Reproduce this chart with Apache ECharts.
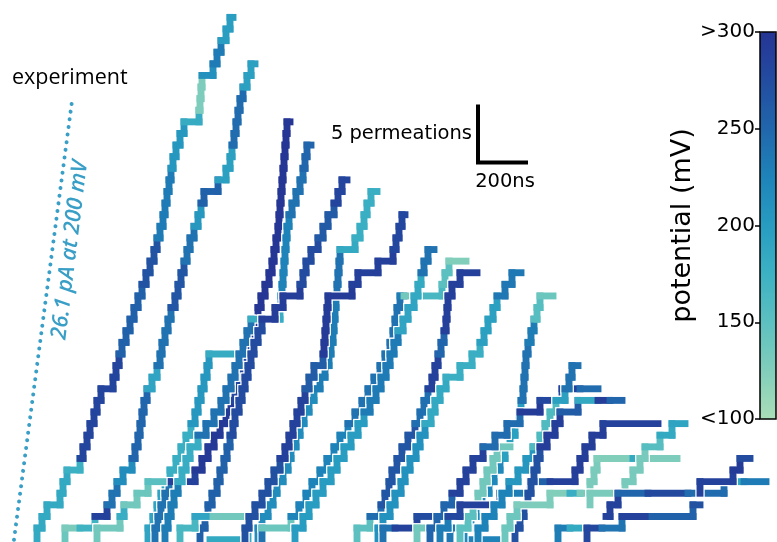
<!DOCTYPE html>
<html>
<head>
<meta charset="utf-8">
<script src="https://cdn.jsdelivr.net/npm/echarts/dist/echarts.min.js"></script>
<style>
  html, body { margin: 0; padding: 0; background: #ffffff; }
  #chart { width: 777px; height: 542px; }
</style>
</head>
<body>
<div id="chart"></div>
<script>
// ---- Permeation traces -------------------------------------------------
// Each trace: start = [time (ns), permeation count], dwell = time (ns) spent at
// each count before the next permeation (a nested list splits one dwell into
// pieces of different potential), mv = runs of [number of pieces, potential mV].
const trA = { start: [148, 0],
  dwell: [0,20,20,52,12,16,52,12,16,12,16,12,16,48,12,12,12,16,16,16,16,16,16,16,16,12,12,12,8,8,8,8,8,12,16,16,60,4,4,4,44,16,16,20,16,12],
  mv: [[6,185],[1,175],[9,282],[6,255],[4,268],[6,232],[4,205],[1,182],[3,128],[1,212],[2,232],[3,198]] };
const trB = { start: [260, 0],
  dwell: [0,[60,60],48,20,20,24,36,12,12,8,8,8,12,20,20,12,8,12,12,12,16,12,12,12,12,12,16,16,12,12,56,32,16,8,8,8,8,8,12,16,16,16],
  mv: [[1,140],[1,130],[1,172],[1,285],[2,240],[2,215],[6,250],[2,190],[5,240],[4,265],[3,240],[2,205],[2,255],[3,195],[5,245],[3,195]] };
const trY = { start: [592, 0],
  dwell: [0,20,16,16,16,20,24,20,20,20,16,12,12,12,12,8,116],
  mv: [[5,190],[5,178],[6,205],[1,182]] };
const trC = { start: [620, 0],
  dwell: [0,12,12,16,16,104,28,24,24,24,24,20,16,16,16,12,12,12,12,12,12,16,16,12,8,8,8,4,4,4,4,4,4,4,4,4,12],
  mv: [[5,240],[1,285],[6,295],[5,280],[20,298]] };
const trC2 = { start: [660, 0],
  dwell: [0,12,12,12,16,16,16,16,32,32,32,28,20,20,16,16,16,16,16,116,4,4,4,4,4,4,4,8,12,16,16,12,8,8,16],
  mv: [[5,230],[4,180],[10,240],[1,180],[8,225],[4,240],[3,250]] };
const trD = { start: [800, 0],
  dwell: [0,20,12,16,20,12,16,12,12,12,8,16,12,12,12,12,12,16,16,52,32,68,12,12,20,28,20,20,24,16,16,20],
  mv: [[9,255],[10,275],[3,290],[4,275],[3,262],[3,282]] };
const trZ2 = { start: [388, 0], dwell: [0,92,16,52,44,60], mv: [[2,135],[1,180],[1,135],[1,140],[1,152]] };
const trZ5 = { start: [720, 0], dwell: [0,60,[72,136]], mv: [[2,165],[1,190],[1,135]] };
const trBt1 = { start: [840, 0], dwell: [108], mv: [[1,185]] };
const trBt2 = { start: [992, 0], dwell: [0,[72,76]], mv: [[2,185],[1,135]] };
const trE = { start: [1032, 0],
  dwell: [0,16,24,20,16,24,20,12,20,16,16,20,20,24,20,16,8,8,4,4,4,4,4,4,4,60,20,16,12,16,24],
  mv: [[13,215],[8,230],[4,240],[1,185],[5,178]] };
const trF = { start: [980, 0],
  dwell: [0,16,24,28,24,24,24,20,16,16,16,16,16,16,20,36,4,4,4,4,4,96,24,80,60,12,12,12,12],
  mv: [[7,270],[6,285],[3,260],[6,292],[3,288],[4,280]] };
const trG = { start: [1048, 0],
  dwell: [0,116,32,28,24,32,28,28,24,32,28,28,24,24,24,20,20,12,8,8,12,[16,64,88],12,16,68],
  mv: [[1,240],[1,140],[8,225],[11,240],[1,230],[1,135],[1,165],[2,150],[1,125]] };
const trH = { start: [1180, 0],
  dwell: [0,32,24,28,28,32,24,28,28,28,24,24,24,20,20,16,16,16,20,20,24,16,12,12,16,24],
  mv: [[11,200],[7,232],[3,190],[2,185],[3,240]] };
const trI = { start: [1428, 0],
  dwell: [0,52,44,16,16,12,20,20,24,28,20,16,16,16,12,12,12,12,8,4,4,16,32,68],
  mv: [[2,150],[1,245],[7,265],[3,242],[3,285],[2,250],[6,288]] };
const trK = { start: [1512, 0],
  dwell: [0,20,28,20,24,16,20,24,16,20,24,16,20,24,56,48,32,16,16,20,16,32,28,36],
  mv: [[10,210],[4,185],[3,178],[4,195],[3,235]] };
const trBt5 = { start: [1532, 0], dwell: [0,[48,88],80], mv: [[2,240],[1,285],[1,275]] };
const trBt6 = { start: [1668, 0], dwell: [0,132], mv: [[2,135]] };
const trBt8 = { start: [1800, 0], dwell: [0,132], mv: [[2,235]] };
const trBt9 = { start: [1880, 0], dwell: [108], mv: [[1,225]] };
const trL = { start: [1856, 0],
  dwell: [0,28,20,24,28,20,24,20,20,20,16,8,8,4,4,4,8,12,12,12,12,52],
  mv: [[7,220],[3,195],[2,200],[5,240],[2,230],[2,155],[1,140]] };
const trR2 = { start: [1840, 0], dwell: [0,32,20,20,20,16,24,16,52], mv: [[3,150],[6,135]] };
const trN = { start: [1720, 0],
  dwell: [0,28,28,32,32,24,28,40,48,48,52,80,88,[72,72]],
  mv: [[4,250],[4,285],[3,245],[1,292],[1,280],[1,288],[1,245]] };
const trP = { start: [1760, 0],
  dwell: [0,32,48,160,120,[80,100],20,20,28,44,220],
  mv: [[2,230],[1,280],[1,285],[1,230],[1,255],[1,288],[4,290],[1,286]] };
const trM = { start: [1912, 0],
  dwell: [0,28,36,32,28,36,32,28,28,20,20,24,36,16,12,24],
  mv: [[5,225],[3,205],[4,160],[1,195],[3,240]] };
const trO = { start: [2060, 0],
  dwell: [0,20,16,16,12,12,12,12,28,32,20,72,[80,48,48]],
  mv: [[8,270],[3,290],[1,260],[1,185],[1,290],[1,250]] };
const trR = { start: [2020, 0],
  dwell: [0,20,28,132,[80,40,40],16,12,[144,48,128]],
  mv: [[3,138],[1,128],[1,125],[1,180],[3,130],[1,125],[1,185],[1,128]] };
const trQ = { start: [2360, 3], dwell: [0,140,32,28,20,60,48,52], mv: [[2,130],[3,132],[1,155],[1,185],[1,192]] };
const trW = { start: [2232, 0], dwell: [0,[48,68]], mv: [[2,230],[1,185]] };
const trU = { start: [2348, 0], dwell: [0,[60,80],[120,164],28], mv: [[2,280],[1,238],[1,285],[1,255],[1,270]] };
const trT = { start: [2424, 2], dwell: [16,32,[120,160,144],[80,88]], mv: [[2,285],[1,250],[1,278],[1,245],[1,185],[1,232]] };
const trV = { start: [2800, 4], dwell: [0,132,28,40], mv: [[2,285],[1,292],[1,276]] };

const traces = [trA, trB, trY, trC, trC2, trD, trZ2, trZ5, trBt1, trBt2, trE, trF, trG, trH,
  trI, trK, trBt5, trBt6, trBt8, trBt9, trL, trR2, trN, trP, trM, trO, trR, trQ, trW, trU, trT, trV];

// ---- Experimental reference: 26.1 pA at 200 mV ---------------------------
const EXP_CURRENT_PA = 26.1;
const EXP_VOLTAGE_MV = 200;
const EXP_START_NS = 56;
const EXP_END_COUNT = 38.1;

// ---- Scale bar -----------------------------------------------------------
const SCALE_NS = 200;
const SCALE_PERM = 5;
const SCALE_AT = [1912, 32.5];

// ---- Colour bar ----------------------------------------------------------
const POT_MIN = 100, POT_MAX = 300, POT_STEP = 50;
const POT_COLORS = ['#aadeb7','#81cebb','#5dc0c0','#3cb1c3','#289cc1','#1e83b9','#2166ac','#234ca0','#253494'];
const CBAR = { left: 760, top: 32, width: 16, height: 387 };

const HALF_W = 3.45, HALO_HALF_W = 4.7;
const FONT_PLAIN = '"DejaVu Sans", sans-serif';
const FONT_HUMAN = '"Open Sans", "Noto Sans", sans-serif';

// Expand a trace into segments [tStart, tEnd, count, mV]; a jump raises
// the count by one at a single instant.
function buildSegments(tr) {
  const mvList = [];
  tr.mv.forEach(([n, v]) => { for (let i = 0; i < n; i++) mvList.push(v); });
  const out = [];
  let t = tr.start[0], lv = tr.start[1], k = 0;
  tr.dwell.forEach((d, i) => {
    const parts = Array.isArray(d) ? d : [d];
    let mvNow = mvList[k];
    parts.forEach(p => {
      mvNow = mvList[k++];
      if (p > 0) out.push({ value: [t, t + p, lv, mvNow], jump: false });
      t += p;
    });
    if (i < tr.dwell.length - 1) {
      out.push({ value: [t, t, lv, mvNow], jump: true });
      lv += 1;
    }
  });
  return out;
}

function drawSegment(segs, halo) {
  const hw = halo ? HALO_HALF_W : HALF_W;
  return function (params, api) {
    const seg = segs[params.dataIndex];
    const t0 = api.value(0), t1 = api.value(1), lv = api.value(2);
    const a = api.coord([t0, lv]);
    const b = seg.jump ? api.coord([t0, lv + 1]) : api.coord([t1, lv]);
    const x0 = Math.min(a[0], b[0]) - hw, x1 = Math.max(a[0], b[0]) + hw;
    const y0 = Math.min(a[1], b[1]) - hw, y1 = Math.max(a[1], b[1]) + hw;
    return {
      type: 'rect',
      silent: true,
      shape: { x: x0, y: y0, width: x1 - x0, height: y1 - y0 },
      style: { fill: halo ? '#ffffff' : api.visual('color') }
    };
  };
}

// Each trace gets its own z pair: a white outline just below its coloured
// steps, so a later trace cuts cleanly across an earlier one.
const series = [];
const colouredIdx = [];
traces.forEach((tr, k) => {
  const segs = buildSegments(tr);
  const data = segs.map(s => s.value);
  const base = { type: 'custom', xAxisIndex: 0, yAxisIndex: 0, silent: true, data: data };
  series.push(Object.assign({}, base, { z: 2 * k + 1, renderItem: drawSegment(segs, true) }));
  colouredIdx.push(series.length);
  series.push(Object.assign({}, base, { z: 2 * k + 2, renderItem: drawSegment(segs, false) }));
});

// permeations per ns carried by the measured current
const expRate = EXP_CURRENT_PA * 1e-12 / 1.602176634e-19 * 1e-9;
series.push({
  type: 'line', xAxisIndex: 0, yAxisIndex: 0, silent: true, symbol: 'none', z: 150,
  data: [[EXP_START_NS, 0], [EXP_START_NS + EXP_END_COUNT / expRate, EXP_END_COUNT]],
  lineStyle: { color: '#3a9fc6', width: 4, type: [0.01, 7.7], cap: 'round' }
});
series.push({
  type: 'line', xAxisIndex: 0, yAxisIndex: 0, silent: true, symbol: 'none', z: 150,
  data: [[SCALE_AT[0], SCALE_AT[1] + SCALE_PERM], [SCALE_AT[0], SCALE_AT[1]], [SCALE_AT[0] + SCALE_NS, SCALE_AT[1]]],
  lineStyle: { color: '#000000', width: 4, cap: 'butt', join: 'miter' }
});

const chart = echarts.init(document.getElementById('chart'), null, { renderer: 'canvas' });
chart.setOption({
  animation: false,
  backgroundColor: '#ffffff',
  grid: [
    { left: 0, right: 0, top: 0, bottom: 0, outerBoundsMode: 'none' },
    { left: CBAR.left, top: CBAR.top, width: CBAR.width, height: CBAR.height, outerBoundsMode: 'none' }
  ],
  xAxis: [
    { type: 'value', gridIndex: 0, min: 0, max: 3108, show: false },
    { type: 'value', gridIndex: 1, min: 0, max: 1, show: false }
  ],
  yAxis: [
    { type: 'value', gridIndex: 0, min: -0.2, max: 46.5, show: false },
    { type: 'value', gridIndex: 1, min: POT_MIN, max: POT_MAX, interval: POT_STEP, position: 'left',
      axisLine: { show: false },
      axisTick: { show: true, length: 5, lineStyle: { color: '#000', width: 1.5 } },
      splitLine: { show: false },
      axisLabel: { margin: 5, fontSize: 20, color: '#000', fontFamily: FONT_PLAIN,
        formatter: v => v === POT_MAX ? '>' + v : (v === POT_MIN ? '<' + v : String(v)) },
      name: 'potential (mV)', nameLocation: 'middle', nameRotate: 90, nameGap: 55,
      nameTextStyle: { fontSize: 27, color: '#000', fontFamily: FONT_PLAIN } }
  ],
  visualMap: {
    type: 'continuous', min: POT_MIN, max: POT_MAX, dimension: 3, seriesIndex: colouredIdx,
    inRange: { color: POT_COLORS }, z: 150,
    left: CBAR.left, top: CBAR.top, itemWidth: CBAR.width, itemHeight: CBAR.height,
    padding: 0, calculable: false, hoverLink: false, realtime: false
  },
  graphic: [
    { type: 'text', x: 12, y: 78, z: 200,
      style: { text: 'experiment', font: '21.5px ' + FONT_HUMAN, fill: '#000000', align: 'left', verticalAlign: 'middle' } },
    { type: 'text', x: 70, y: 250, rotation: 83 * Math.PI / 180, z: 200,
      style: { text: EXP_CURRENT_PA + ' pA at ' + EXP_VOLTAGE_MV + ' mV', font: 'italic 600 22px ' + FONT_HUMAN,
        fill: '#3a9fc6', align: 'center', verticalAlign: 'middle' } },
    { type: 'text', x: 472, y: 134, z: 200,
      style: { text: SCALE_PERM + ' permeations', font: '19.5px ' + FONT_PLAIN, fill: '#000', align: 'right', verticalAlign: 'middle' } },
    { type: 'text', x: 505, y: 182, z: 200,
      style: { text: SCALE_NS + 'ns', font: '19.5px ' + FONT_PLAIN, fill: '#000', align: 'center', verticalAlign: 'middle' } },
    { type: 'rect', z: 200, silent: true,
      shape: { x: CBAR.left, y: CBAR.top, width: CBAR.width, height: CBAR.height },
      style: { fill: null, stroke: '#000', lineWidth: 1.5 } }
  ],
  series: series
});
</script>
</body>
</html>
